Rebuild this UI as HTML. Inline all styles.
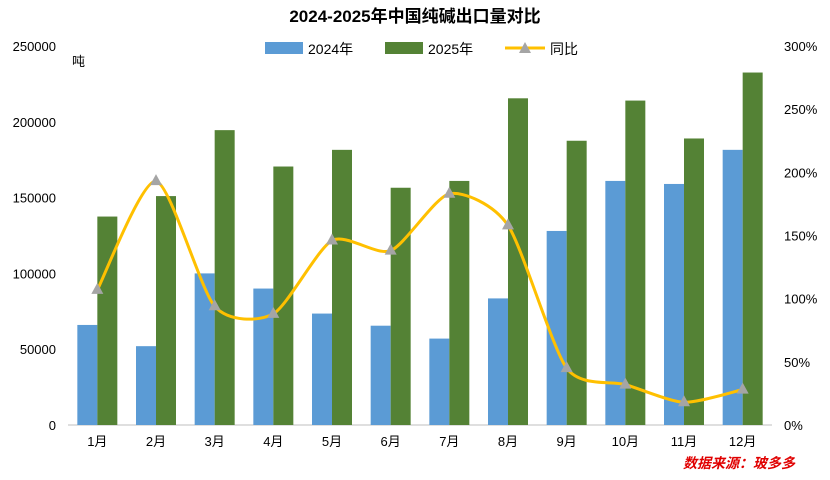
<!DOCTYPE html>
<html><head><meta charset="utf-8">
<style>
body{margin:0;background:#fff;font-family:"Liberation Sans","Noto Sans CJK SC",sans-serif;}
svg text{font-family:"Liberation Sans","Noto Sans CJK SC",sans-serif;}
</style></head>
<body>
<svg id="c" width="830" height="475" xmlns="http://www.w3.org/2000/svg">
<rect width="830" height="475" fill="#fff"/>
<text x="415" y="22" text-anchor="middle" font-size="17" font-weight="bold" fill="#000">2024-2025年中国纯碱出口量对比</text>
<text x="72" y="66" font-size="13" fill="#000">吨</text>
<g>
<rect x="265" y="42" width="38" height="12" fill="#5b9bd5"/>
<text x="308" y="54" font-size="14">2024年</text>
<rect x="385" y="42" width="38" height="12" fill="#548235"/>
<text x="428" y="54" font-size="14">2025年</text>
<line x1="505" y1="48" x2="545" y2="48" stroke="#ffc000" stroke-width="3"/>
<polygon points="525,42 531,53 519,53" fill="#a5a5a5"/>
<text x="550" y="54" font-size="14">同比</text>
</g>
<text x="795" y="468" text-anchor="end" font-size="14" font-weight="bold" font-style="italic" fill="#e00000">数据来源：玻多多</text>
<g id="plot"></g>
</svg>
<script>
const categories=["1月","2月","3月","4月","5月","6月","7月","8月","9月","10月","11月","12月"];
const values2024=[66000,52000,100000,90000,73500,65500,57000,83500,128000,161000,159000,181500];
const values2025=[137500,151000,194500,170500,181500,156500,161000,215500,187500,214000,189000,232500];
const yoyPct=[107,193,94,88,146,138,183,158,45,32,18,28];
const leftTicks=[0,50000,100000,150000,200000,250000];
const rightTicks=[0,50,100,150,200,250,300];
const NS="http://www.w3.org/2000/svg";
const g=document.getElementById('plot');
const x0=68,x1=772,yB=425,yT=46;
const step=(x1-x0)/categories.length;
const xc=i=>x0+step*(i+0.5);
const yL=v=>yB-(v/250000)*(yB-yT);
const yR=v=>yB-(v/300)*(yB-yT);
function el(t,a){const e=document.createElementNS(NS,t);for(const k in a)e.setAttribute(k,a[k]);g.appendChild(e);return e;}
leftTicks.forEach(v=>{const t=el('text',{x:56,y:yL(v)+5,'text-anchor':'end','font-size':13});t.textContent=v;

});
rightTicks.forEach(v=>{const t=el('text',{x:784,y:yR(v)+5,'font-size':13});t.textContent=v+'%';

});
const ax=el('line',{x1:x0,y1:yB,x2:x1,y2:yB,stroke:'#bfbfbf'});


const bw=20;
categories.forEach((c,i)=>{
 const b1=el('rect',{x:xc(i)-bw,y:yL(values2024[i]),width:bw,height:yB-yL(values2024[i]),fill:'#5b9bd5'});
 
 
 const b2=el('rect',{x:xc(i),y:yL(values2025[i]),width:bw,height:yB-yL(values2025[i]),fill:'#548235'});
 
 
 const t=el('text',{x:xc(i),y:446,'text-anchor':'middle','font-size':13});t.textContent=c;
 
 
});
const pts=yoyPct.map((v,i)=>[xc(i),yR(v)]);
let d='M'+pts[0][0]+','+pts[0][1];
for(let i=0;i<pts.length-1;i++){
 const p0=pts[Math.max(0,i-1)],p1=pts[i],p2=pts[i+1],p3=pts[Math.min(pts.length-1,i+2)];
 const k=0.12;
 d+=` C${p1[0]+(p2[0]-p0[0])*k},${p1[1]+(p2[1]-p0[1])*k} ${p2[0]-(p3[0]-p1[0])*k},${p2[1]-(p3[1]-p1[1])*k} ${p2[0]},${p2[1]}`;
}
const ln=el('path',{d:d,fill:'none',stroke:'#ffc000','stroke-width':3});


pts.forEach(p=>{
 const m=el('polygon',{points:`${p[0]},${p[1]-7} ${p[0]+6},${p[1]+4} ${p[0]-6},${p[1]+4}`,fill:'#a5a5a5'});
 
 
});
</script>
</body></html>
